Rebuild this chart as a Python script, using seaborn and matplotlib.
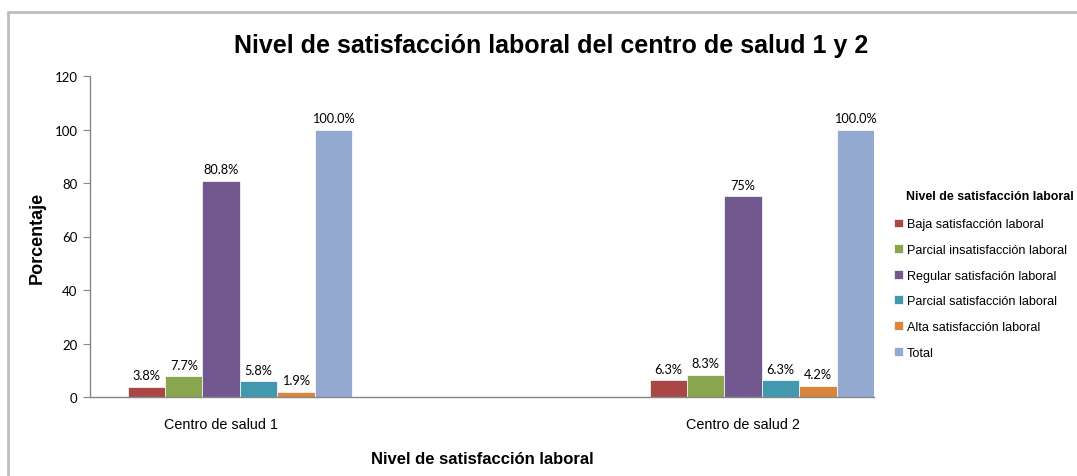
import pandas as pd
import seaborn as sns
import matplotlib.pyplot as plt
from matplotlib.lines import Line2D
from matplotlib.transforms import ScaledTranslation

centros = ["Centro de salud 1", "Centro de salud 2"]
niveles = ["Baja satisfacción laboral", "Parcial insatisfacción laboral",
           "Regular satisfación laboral", "Parcial satisfacción laboral",
           "Alta satisfacción laboral", "Total"]
centro1 = [3.8, 7.7, 80.8, 5.8, 1.9, 100.0]
centro2 = [6.3, 8.3, 75.0, 6.3, 4.2, 100.0]
etiquetas1 = ["3.8%", "7.7%", "80.8%", "5.8%", "1.9%", "100.0%"]
etiquetas2 = ["6.3%", "8.3%", "75%", "6.3%", "4.2%", "100.0%"]
colores = ["#AA4643", "#89A54E", "#71588F", "#4198AF", "#DB843D", "#93A9CF"]

df = pd.DataFrame({
    "centro": [centros[0]] * 6 + [centros[1]] * 6,
    "nivel": niveles + niveles,
    "pct": centro1 + centro2,
})

sns.set_style("white")
plt.rcParams['font.family'] = ['Liberation Sans', 'DejaVu Sans']
plt.rcParams['text.color'] = 'black'
plt.rcParams['axes.labelcolor'] = 'black'

fig = plt.figure(figsize=(10.77, 4.77), dpi=100)
ax = fig.add_axes([90/1077, 1-398/477, (874-90)/1077, (398-77)/477])

sns.barplot(data=df, x="centro", y="pct", hue="nivel", hue_order=niveles,
            palette=colores, width=0.43, saturation=1, edgecolor="white",
            linewidth=0.5, ax=ax)

for i, cont in enumerate(ax.containers):
    ax.bar_label(cont, labels=[etiquetas1[i], etiquetas2[i]], padding=4,
                 fontsize=9.2, family=['Lato', 'DejaVu Sans'], color="black")

ax.set_ylim(0, 120)
ax.set_yticks(range(0, 121, 20))
ax.set_xlim(-0.287, 1.215)
ax.tick_params(axis='y', which='both', left=True, length=5, color="#868686",
               labelsize=9.5, pad=4, labelcolor="black")
ax.tick_params(axis='x', bottom=False, labelsize=10.4, pad=11, labelcolor="black")
for t in ax.get_yticklabels():
    t.set_family(['Lato', 'DejaVu Sans'])
for t in ax.get_xticklabels():
    t.set_transform(t.get_transform() + ScaledTranslation(-0.19, 0, fig.dpi_scale_trans))

sns.despine(ax=ax)
for s in ["left", "bottom"]:
    ax.spines[s].set_color("#868686")
    ax.spines[s].set_linewidth(1)

ax.set_ylabel("Porcentaje", fontsize=13, fontweight="bold", labelpad=6)
ax.set_xlabel("Nivel de satisfacción laboral", fontsize=12, fontweight="bold", labelpad=14)

fig.text(551/1077, 1-46/477, "Nivel de satisfacción laboral del centro de salud 1 y 2",
         ha="center", va="center", fontsize=18, fontweight="bold")

fig.text(906/1077, 1-197/477, "Nivel de satisfacción laboral", ha="left", va="center",
         fontsize=8.9, fontweight="bold")
leg = ax.legend(loc="upper left", bbox_to_anchor=(883/1077, 1-208/477),
                bbox_transform=fig.transFigure, frameon=False, fontsize=9.1,
                handlelength=0.7, handleheight=0.7, handletextpad=0.3,
                labelspacing=1.08)

fig.add_artist(Line2D([8/1077, 8/1077], [0, 1-13/477], color="#bdbdbd", lw=2,
                      transform=fig.transFigure))
fig.add_artist(Line2D([8/1077, 1], [1-13/477, 1-13/477], color="#bdbdbd", lw=2,
                      transform=fig.transFigure))

fig.savefig("out.png", dpi=100)
